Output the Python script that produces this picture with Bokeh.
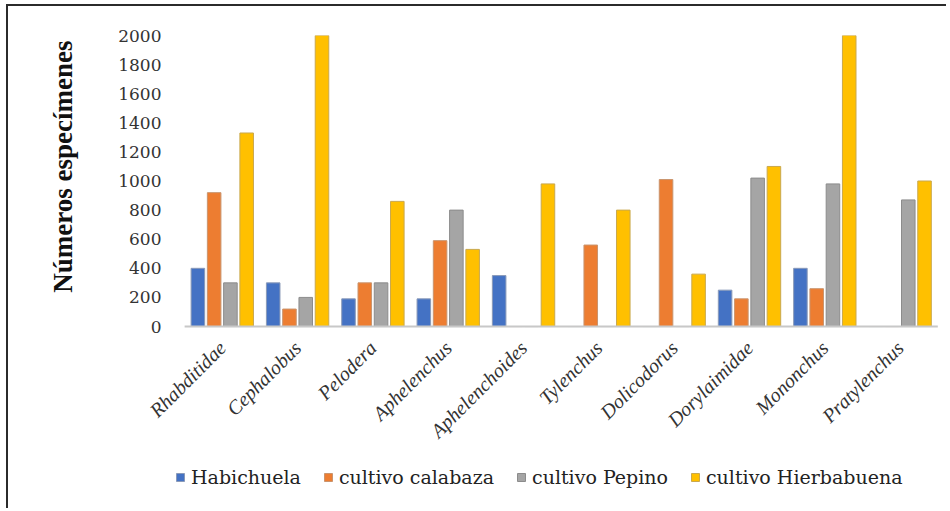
import math
from bokeh.plotting import figure
from bokeh.models import (Range1d, FixedTicker, ColumnDataSource,
                          Legend, LegendItem, Title)
from bokeh.transform import dodge
from bokeh.embed import file_html
from bokeh.resources import INLINE

categories = ["Rhabditidae", "Cephalobus", "Pelodera", "Aphelenchus",
              "Aphelenchoides", "Tylenchus", "Dolicodorus", "Dorylaimidae",
              "Mononchus", "Pratylenchus"]
habichuela = [400, 300, 190, 190, 350, 0, 0, 250, 400, 0]
calabaza = [920, 120, 300, 590, 0, 560, 1010, 190, 260, 0]
pepino = [300, 200, 300, 800, 0, 0, 0, 1020, 980, 870]
hierbabuena = [1330, 2000, 860, 530, 980, 800, 360, 1100, 2000, 1000]
series_names = ["Habichuela", "cultivo calabaza", "cultivo Pepino", "cultivo Hierbabuena"]
y_ticks = [0, 200, 400, 600, 800, 1000, 1200, 1400, 1600, 1800, 2000]
y_title = "Números especímenes"

colors = ["#4472C4", "#ED7D31", "#A5A5A5", "#FFC000"]
outlines = ["#8a9ab8", "#c9946e", "#8c8c8c", "#c9a84e"]
offsets = [-0.324, -0.108, 0.108, 0.324]

idx = list(range(len(categories)))
source = ColumnDataSource(dict(idx=idx, cat=categories, s0=habichuela, s1=calabaza,
                               s2=pepino, s3=hierbabuena))

# frame: x 130..948, y 35..505 on screen; category k centred at 220+75.5k,
# value 0 lands at y=326 and 2000 at y=35
p = figure(x_range=Range1d(-1.192, 9.642), y_range=Range1d(-1230, 2000),
           width=940, height=504, output_backend="svg", toolbar_location=None,
           min_border_left=122, min_border_top=29, min_border_bottom=5,
           min_border_right=0)
p.styles = {"border-left": "2px solid #2b2b2b", "border-top": "2px solid #2b2b2b",
            "margin-left": "6px", "margin-top": "4px"}
p.outline_line_color = None
p.xgrid.grid_line_color = None
p.ygrid.grid_line_color = None

renderers = []
for i, key in enumerate(["s0", "s1", "s2", "s3"]):
    r = p.vbar(x=dodge("idx", offsets[i]), top=key, width=0.18,
               source=source, fill_color=colors[i], line_color=outlines[i],
               line_width=1)
    renderers.append(r)

# category baseline (from first to last category slot), on top of the bars
p.segment(x0=[idx[0] - 0.5], x1=[idx[-1] + 0.5], y0=[0], y1=[0],
          line_color="#c8c8c8", line_width=2)

# X axis drawn at value 0, labelled with the categories
p.xaxis.fixed_location = 0
p.xaxis.ticker = FixedTicker(ticks=idx)
p.xaxis.major_label_overrides = {i: c for i, c in zip(idx, categories)}
p.xaxis.axis_line_color = None
p.xaxis.major_tick_line_color = None
p.xaxis.minor_tick_line_color = None
p.xaxis.major_label_orientation = math.pi / 4
p.xaxis.major_label_standoff = 12
p.xaxis.major_label_text_font = "Liberation Serif"
p.xaxis.major_label_text_font_style = "italic"
p.xaxis.major_label_text_font_size = "20px"
p.xaxis.major_label_text_color = "#333333"

# Y axis
p.yaxis.ticker = FixedTicker(ticks=y_ticks)
p.yaxis.axis_line_color = None
p.yaxis.major_tick_line_color = None
p.yaxis.minor_tick_line_color = None
p.yaxis.major_label_standoff = -35
p.yaxis.major_label_text_font = "DejaVu Serif"
p.yaxis.major_label_text_font_size = "17px"
p.yaxis.major_label_text_color = "#333333"

ytitle = Title(text=y_title, align="right", offset=5, standoff=75,
               text_font="Liberation Serif", text_font_style="bold",
               text_font_size="27px", text_color="#111111")
p.add_layout(ytitle, "left")

legend = Legend(items=[LegendItem(label=series_names[i], renderers=[renderers[i]])
                       for i in range(4)],
                location=(43, 17), orientation="horizontal")
legend.spacing = 22
legend.label_standoff = 6
legend.glyph_width = 10
legend.glyph_height = 10
legend.label_height = 20
legend.padding = 0
legend.margin = 0
legend.border_line_color = None
legend.background_fill_alpha = 0
legend.label_text_font = "DejaVu Serif"
legend.label_text_font_size = "19px"
legend.label_text_color = "#222222"
p.add_layout(legend)

open("out.html", "w").write(file_html(p, INLINE))
